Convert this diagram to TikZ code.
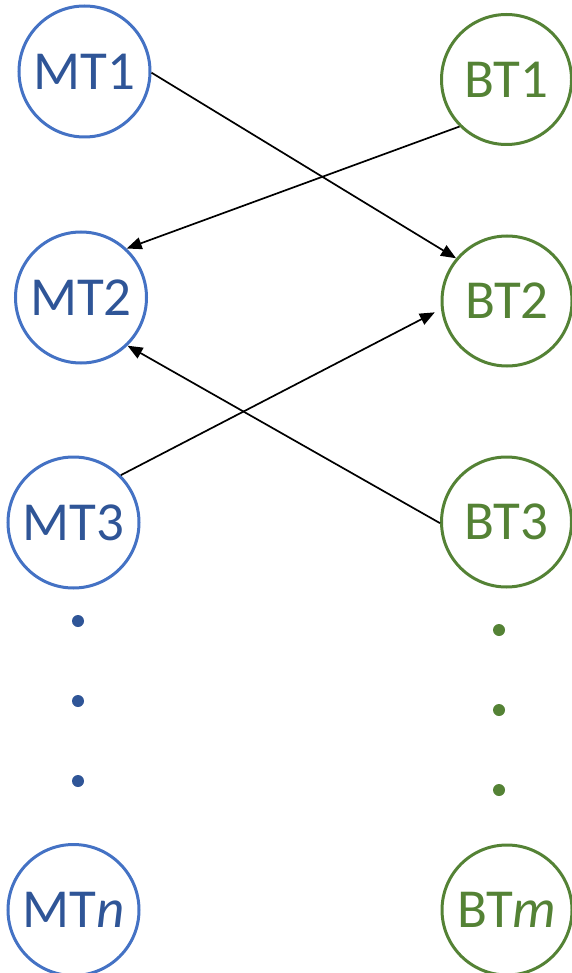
\documentclass[tikz,border=0pt]{standalone}
\usepackage{fontspec}
\setmainfont{Carlito}
\usetikzlibrary{arrows.meta}
\definecolor{mttext}{HTML}{2F5597}
\definecolor{mtline}{HTML}{4472C4}
\definecolor{btgreen}{HTML}{548235}
\begin{document}
\begin{tikzpicture}[x=1pt, y=-1pt,
		mt/.style={draw=mtline, circle, line width=3pt, minimum size=131pt, inner sep=0pt, text=mttext, font=\fontsize{55}{60}\selectfont},
		bt/.style={draw=btgreen, circle, line width=3pt, minimum size=130pt, inner sep=0pt, text=btgreen, font=\fontsize{55}{60}\selectfont},
		mtdot/.style={circle, fill=mttext, inner sep=0pt, minimum size=12pt},
		btdot/.style={circle, fill=btgreen, inner sep=0pt, minimum size=12pt},
		arr/.style={-{Triangle[length=15pt, width=12pt]}, line width=1.7pt}]
		\useasboundingbox (0,0) rectangle (572,973);
		
		\node[mt] (MT1) at (84.5,71.5) {MT1};
		\node[mt] (MT2) at (81,297.5) {MT2};
		\node[mt] (MT3) at (73.5,522.5) {MT3};
		\node[mt] (MTn) at (73.5,910) {MT\textit{n}};
		\node[mtdot] (mdot1) at (78,621) {};
		\node[mtdot] (mdot2) at (78,701) {};
		\node[mtdot] (mdot3) at (78,781) {};
		
		\node[bt] (BT1) at (506.5,79.5) {BT1};
		\node[bt] (BT2) at (507,301) {BT2};
		\node[bt] (BT3) at (506.5,522) {BT3};
		\node[bt] (BTm) at (507,910) {BT\textit{m}};
		\node[btdot] (bdot1) at (499,630) {};
		\node[btdot] (bdot2) at (499,710) {};
		\node[btdot] (bdot3) at (499,790) {};
		
		\draw[arr] (MT1.-1) to (BT2.140);
		\draw[arr] (BT1.225) to (MT2.47);
		\draw[arr, shorten >=7pt] (MT3.45) to (BT2.187);
		\draw[arr] (BT3.181) to (MT2.-46);
		
	\end{tikzpicture}
\end{document}
